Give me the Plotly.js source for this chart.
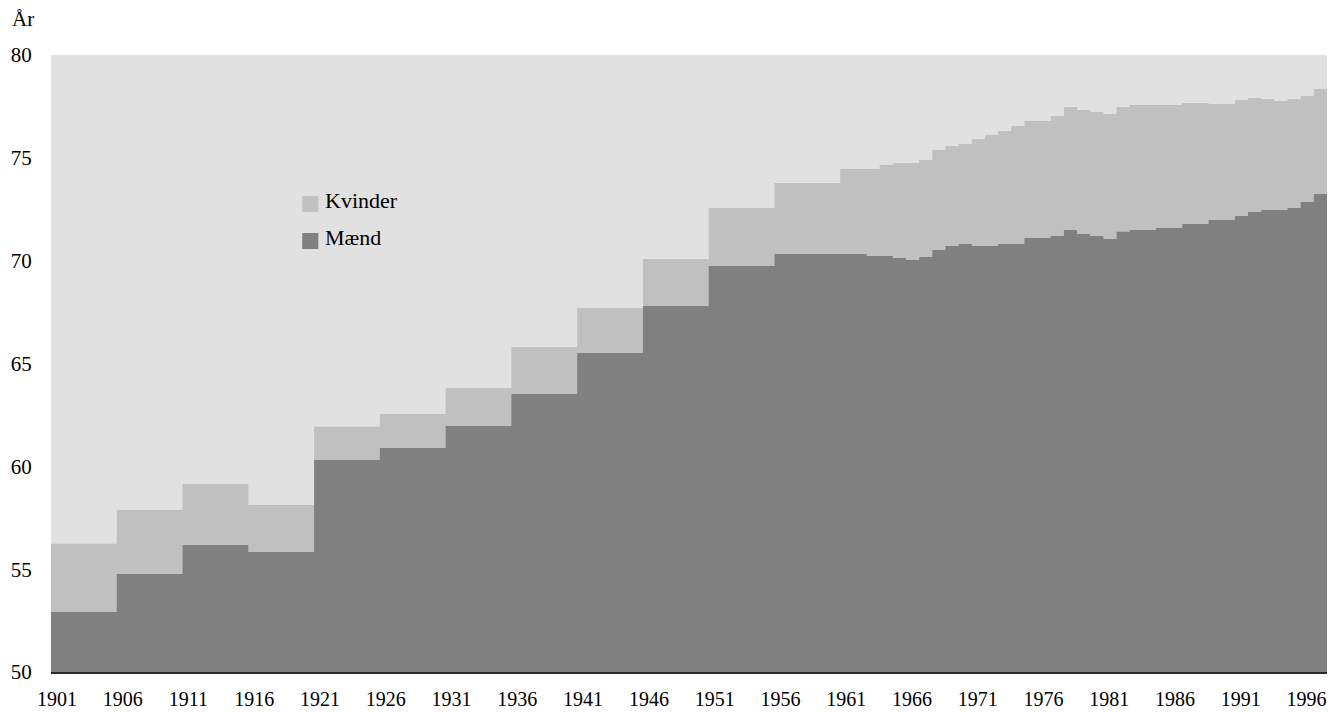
<!DOCTYPE html>
<html>
<head>
<meta charset="utf-8">
<script src="https://cdn.plot.ly/plotly-3.0.1.min.js"></script>
<style>html,body{margin:0;padding:0;background:#fff;}#chart{width:1331px;height:712px;}</style>
</head>
<body>
<div id="chart"></div>
<script>
// Period start years: 5-year periods 1901-1956, then yearly 1961-1997
const periodStart = [1901,1906,1911,1916,1921,1926,1931,1936,1941,1946,1951,1956,
  1961,1962,1963,1964,1965,1966,1967,1968,1969,1970,1971,1972,1973,1974,1975,1976,
  1977,1978,1979,1980,1981,1982,1983,1984,1985,1986,1987,1988,1989,1990,1991,1992,
  1993,1994,1995,1996,1997];
const periodEnd = 1998;

const kvinder = [56.23,57.88,59.14,58.12,61.92,62.55,63.81,65.80,67.70,70.08,72.56,73.78,
  74.46,74.46,74.46,74.65,74.75,74.75,74.90,75.38,75.58,75.67,75.92,76.11,76.31,76.55,76.79,76.79,
  77.03,77.47,77.33,77.23,77.13,77.47,77.57,77.57,77.57,77.57,77.67,77.67,77.62,77.62,77.81,77.91,
  77.86,77.76,77.86,78.01,78.35];

const maend = [52.92,54.77,56.18,55.84,60.31,60.89,61.96,63.52,65.51,67.80,69.74,70.33,
  70.33,70.33,70.23,70.23,70.13,70.03,70.18,70.52,70.71,70.81,70.71,70.71,70.81,70.81,71.10,71.10,
  71.20,71.49,71.30,71.20,71.05,71.40,71.49,71.49,71.59,71.59,71.78,71.78,71.98,71.98,72.17,72.37,
  72.46,72.46,72.56,72.85,73.24];

const xTickYears = [1901,1906,1911,1916,1921,1926,1931,1936,1941,1946,1951,1956,1961,1966,1971,1976,1981,1986,1991,1996];
const xTickLabels = xTickYears.map(String);
const yTicks = [50,55,60,65,70,75,80];

const seriesNames = ['Kvinder','Mænd'];
const colors = {Kvinder:'#c0c0c0', 'Mænd':'#808080'};

function stepXY(vals){
  return {x: periodStart.concat([periodEnd]), y: vals.concat([vals[vals.length-1]])};
}

const sK = stepXY(kvinder), sM = stepXY(maend);
const FONT = '"Liberation Serif", "Times New Roman", serif';

const traces = [
  {x: sK.x, y: sK.y, name: 'Kvinder', type:'scatter', mode:'lines', line:{shape:'hv', width:0, color:colors['Kvinder']}, fill:'tozeroy', fillcolor:colors['Kvinder'], hoverinfo:'x+y'},
  {x: sM.x, y: sM.y, name: 'Mænd', type:'scatter', mode:'lines', line:{shape:'hv', width:0, color:colors['Mænd']}, fill:'tozeroy', fillcolor:colors['Mænd'], hoverinfo:'x+y'}
];

const legX0 = 0.1969, legX1 = 0.2095, legTextX = 0.2134;
const legY = [0.7585, 0.6985];
const shapes = [], annotations = [];
seriesNames.forEach((n,i)=>{
  shapes.push({type:'rect', xref:'paper', yref:'paper', x0:legX0, x1:legX1, y0:legY[i]-0.013, y1:legY[i]+0.013, fillcolor:colors[n], line:{width:0}});
  annotations.push({xref:'paper', yref:'paper', x:legTextX, y:legY[i]+0.006, xanchor:'left', yanchor:'middle', text:n, showarrow:false, font:{family:FONT, size:22, color:'#000'}});
});
annotations.push({xref:'paper', yref:'paper', x:-0.0325, y:1.058, xanchor:'left', yanchor:'middle', text:'År', showarrow:false, font:{family:FONT, size:21, color:'#000'}});

const layout = {
  width:1331, height:712,
  margin:{l:50.5, r:3.5, t:55, b:40},
  paper_bgcolor:'#ffffff', plot_bgcolor:'#e1e1e1',
  showlegend:false,
  font:{family:FONT, size:21, color:'#000'},
  xaxis:{
    range:[1901, periodEnd], tickmode:'array',
    tickvals: xTickYears.map(v=>v+0.45), ticktext: xTickLabels,
    showgrid:false, zeroline:false, showline:true, linecolor:'#2a2a2a', linewidth:1.5,
    ticks:'outside', ticklen:8, tickcolor:'rgba(0,0,0,0)',
    tickfont:{family:FONT, size:20, color:'#000'}, fixedrange:true
  },
  yaxis:{
    range:[50,80], tickmode:'array', tickvals:yTicks, ticktext:yTicks.map(String),
    showgrid:false, zeroline:false, showline:false,
    ticks:'outside', ticklen:14, tickcolor:'rgba(0,0,0,0)',
    tickfont:{family:FONT, size:21, color:'#000'}, fixedrange:true
  },
  shapes: shapes,
  annotations: annotations
};

Plotly.newPlot('chart', traces, layout, {displayModeBar:false, staticPlot:true});
</script>
</body>
</html>
